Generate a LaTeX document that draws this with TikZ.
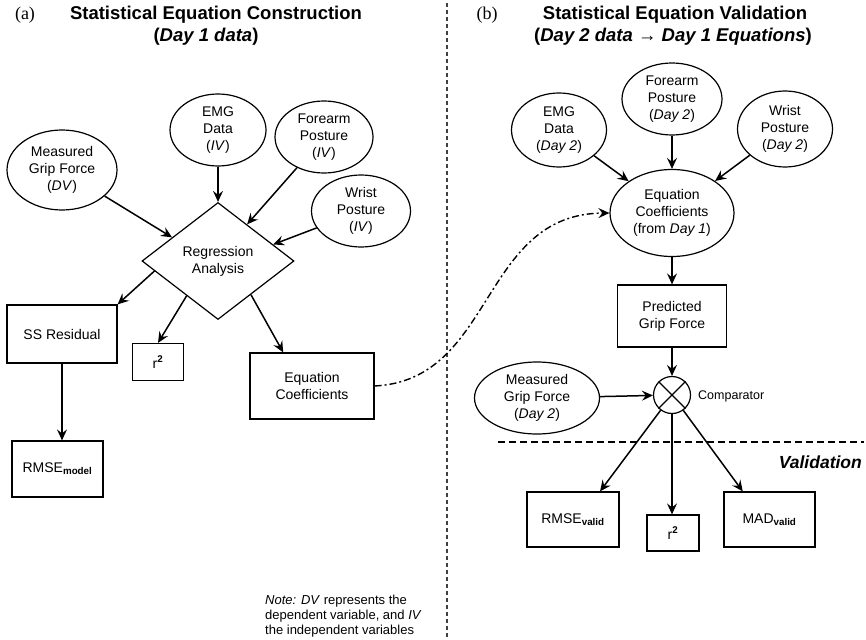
\documentclass[tikz,border=0pt]{standalone}
\usepackage{fontspec}
\setmainfont{Liberation Sans}
\newfontfamily\serifA{Liberation Serif}
\usetikzlibrary{shapes.geometric,arrows.meta,calc}
\begin{document}
\begin{tikzpicture}[x=1pt,y=-1pt,
  every node/.style={font=\fontsize{14}{17}\selectfont, align=center, inner sep=0pt},
  ell/.style={draw, ellipse, line width=1.2pt},
  box/.style={draw, rectangle, line width=1.2pt},
  arr/.style={line width=1.5pt, -{Stealth[length=11pt,width=10pt,inset=4pt]}},
  ddot/.style={line width=1.4pt, dash pattern=on 7pt off 3pt on 2pt off 3pt},
  ttl/.style={font=\fontsize{18.5}{21}\bfseries\selectfont},
  lab/.style={font=\serifA\fontsize{18}{20}\selectfont}]
\useasboundingbox[fill=white] (0,0) rectangle (866,639);

% panel labels and titles
\node[lab] (la) at (25,15) {(a)};
\node[lab] (lb) at (487,15) {(b)};
\node[ttl] (t1) at (216,15) {Statistical Equation Construction};
\node[ttl] (t2) at (206,37) {(\textit{Day 1 data})};
\node[ttl] (t3) at (675,15) {Statistical Equation Validation};
\node[ttl] (t4) at (673,37) {(\textit{Day 2 data → Day 1 Equations})};

% divider
\coordinate (dtop) at (447,3);
\coordinate (dbot) at (447,639);
\draw[line width=1.2pt, dash pattern=on 4pt off 3pt, black!75] (dtop) -- (dbot);

% left panel
\node[ell, minimum width=110pt, minimum height=80pt] (mgf) at (62,170) {Measured\\Grip Force\\(\textit{DV})};
\node[ell, minimum width=96pt, minimum height=72pt] (emg) at (218,130) {EMG\\Data\\(\textit{IV})};
\node[ell, minimum width=98pt, minimum height=72pt] (fp) at (324,137) {Forearm\\Posture\\(\textit{IV})};
\node[ell, minimum width=99pt, minimum height=72pt] (wp) at (361,211) {Wrist\\Posture\\(\textit{IV})};
\node[draw, diamond, aspect=1.3, line width=1.2pt, minimum width=152pt, minimum height=117pt] (ra) at (218,261) {Regression\\Analysis};

\node[box, minimum width=110pt, minimum height=58pt] (ss) at (62,334) {SS Residual};
\node[box, minimum width=51pt, minimum height=37pt] (r2) at (158,362) {r\textsuperscript{\textbf{2}}};
\node[box, minimum width=124pt, minimum height=66pt] (eqc) at (312,386) {Equation\\Coefficients};
\node[box, minimum width=91pt, minimum height=56pt] (rm) at (57.5,469) {RMSE\textsubscript{\textbf{model}}};

\draw[arr] (mgf) -- ($(ra.north)!0.6!(ra.west)$);
\draw[arr] (emg) -- (ra.north);
\draw[arr] (fp) -- ($(ra.north)!0.38!(ra.east)$);
\draw[arr] (wp) -- ($(ra.north)!0.72!(ra.east)$);
\draw[arr] ($(ra.west)!0.17!(ra.south)$) -- (ss.north east);
\draw[arr] ($(ra.west)!0.59!(ra.south)$) -- (r2.north);
\draw[arr] ($(ra.south)!0.43!(ra.east)$) -- ($(eqc.north west)!0.27!(eqc.north east)$);
\draw[arr] (ss.south) -- (ss.south |- rm.north);

\node[anchor=north west, align=left, font=\fontsize{13}{15}\selectfont] (note) at (265,595)
  {\textit{Note:} \textit{DV} represents the\\dependent variable, and \textit{IV}\\the independent variables};

% right panel
\node[ell, minimum width=95pt, minimum height=74pt] (emg2) at (559,130) {EMG\\Data\\(\textit{Day 2})};
\node[ell, minimum width=100pt, minimum height=72pt] (fp2) at (672,99) {Forearm\\Posture\\(\textit{Day 2})};
\node[ell, minimum width=95pt, minimum height=76pt] (wp2) at (785,129) {Wrist\\Posture\\(\textit{Day 2})};
\node[ell, minimum width=124pt, minimum height=87pt] (ecd) at (672,213) {Equation\\Coefficients\\(from \textit{Day 1})};
\node[box, minimum width=109pt, minimum height=62pt] (pgf) at (672,316) {Predicted\\Grip Force};
\node[draw, circle, line width=1.2pt, minimum size=37pt] (cmp) at (672,395) {};
\draw[line width=1.1pt] (cmp.north west) -- (cmp.south east) (cmp.north east) -- (cmp.south west);
\node[anchor=west, font=\fontsize{12.5}{14}\selectfont] (cmpl) at (698,396) {Comparator};
\node[ell, minimum width=125pt, minimum height=72pt] (mgf2) at (537,398) {Measured\\Grip Force\\(\textit{Day 2})};

\coordinate (vl) at (498,442);
\coordinate (vr) at (864,442);
\draw[line width=1.1pt, dash pattern=on 7pt off 4pt] (vl) -- (vr);
\node[anchor=east, font=\fontsize{17.5}{19}\bfseries\itshape\selectfont] (val) at (862,462) {Validation};

\node[box, minimum width=92pt, minimum height=55pt] (rv) at (573,519.5) {RMSE\textsubscript{\textbf{valid}}};
\node[box, minimum width=52pt, minimum height=36pt] (r2b) at (673,533) {r\textsuperscript{\textbf{2}}};
\node[box, minimum width=91pt, minimum height=55pt] (mad) at (769.5,519.5) {MAD\textsubscript{\textbf{valid}}};

\draw[arr] (emg2) -- (ecd);
\draw[arr] (fp2) -- (ecd);
\draw[arr] (wp2) -- (ecd);
\draw[arr] (ecd) -- (pgf);
\draw[arr] (pgf) -- (cmp);
\draw[arr] (mgf2) -- (cmp);
\draw[arr] (cmp) -- ($(rv.north west)!0.79!(rv.north east)$);
\draw[arr] (cmp) -- (cmp |- r2b.north);
\draw[arr] (cmp) -- ($(mad.north west)!0.21!(mad.north east)$);

% link between panels
\draw[ddot, -{Stealth[length=11pt,width=10pt,inset=4pt]}] (eqc.east) .. controls (495,380) and (480,214) .. (ecd.west);
\end{tikzpicture}
\end{document}
